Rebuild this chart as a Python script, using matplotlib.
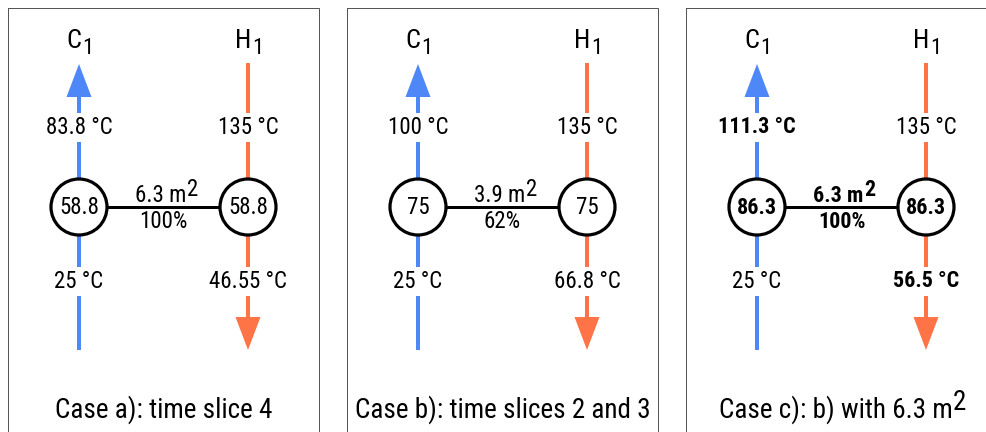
import matplotlib
matplotlib.use("Agg")
import matplotlib.pyplot as plt
from matplotlib import font_manager
from matplotlib.patches import Circle, Polygon, Rectangle

# ---- data ----
captions = ["Case a): time slice 4", "Case b): time slices 2 and 3", "Case c): b) with 6.3 m"]
caption_sup = ["", "", "2"]
cold_name = "C"
hot_name = "H"
stream_index = "1"
cold_in = [25, 25, 25]
cold_out = [83.8, 100, 111.3]
hot_in = [135, 135, 135]
hot_out = [46.55, 66.8, 56.5]
hx_temp = [58.8, 75, 86.3]
hx_area = [6.3, 3.9, 6.3]
hx_share = [100, 62, 100]
highlight = [False, False, True]   # case c) values printed bold

# ---- style ----
BLUE = "#4D87F8"
ORANGE = "#FF7447"
BORDER = "#555555"


def pick_font():
    for fam in ["Liberation Sans Narrow", "Arial Narrow", "Roboto Condensed", "Archivo Narrow",
                "Sofia Sans Semi Condensed", "Liberation Sans"]:
        try:
            font_manager.findfont(font_manager.FontProperties(family=fam), fallback_to_default=False)
            return fam
        except Exception:
            pass
    return "DejaVu Sans"


FONT = pick_font()
plt.rcParams["font.family"] = [FONT, "DejaVu Sans"]

W, H = 987, 432
fig = plt.figure(figsize=(W / 100, H / 100), dpi=100)
ax = fig.add_axes([0, 0, 1, 1])
ax.set_xlim(0, W)
ax.set_ylim(H, 0)
ax.axis("off")

px = 0.72  # points per pixel at 100 dpi
panel_left = [8, 347, 686]
panel_w = 311
col_off = 71       # cold stream offset from panel left
hot_off = 240
y_top_txt = 127
y_bot_txt = 281
y_hx = 207
r = 28
gap = 14.5
line_lw = 4 * px
fs_reg = 16.5
fs_bold = 15.8
fs_name = 19
fs_cap = 19.5


def fs(b):
    return fs_bold if b else fs_reg


for i in range(3):
    L = panel_left[i]
    ax.add_patch(Rectangle((L, 7.5), panel_w, 440, fill=False, ec=BORDER, lw=1.0 * px, zorder=1))
    xc = L + col_off
    xh = L + hot_off
    mid = (xc + xh) / 2
    hb = highlight[i]
    bw = "bold" if hb else "normal"

    # cold stream (upwards)
    segs_c = [(97, y_top_txt - gap), (y_top_txt + gap, y_hx - r), (y_hx + r, y_bot_txt - gap), (y_bot_txt + gap, 350)]
    for a, b in segs_c:
        ax.plot([xc, xc], [a, b], color=BLUE, lw=line_lw, solid_capstyle="butt", zorder=2)
    ax.add_patch(Polygon([[xc - 12.5, 97], [xc + 12.5, 97], [xc, 64]], closed=True, fc=BLUE, ec="none", zorder=2))

    # hot stream (downwards)
    segs_h = [(63, y_top_txt - gap), (y_top_txt + gap, y_hx - r), (y_hx + r, y_bot_txt - gap), (y_bot_txt + gap, 317)]
    for a, b in segs_h:
        ax.plot([xh, xh], [a, b], color=ORANGE, lw=line_lw, solid_capstyle="butt", zorder=2)
    ax.add_patch(Polygon([[xh - 12.5, 317], [xh + 12.5, 317], [xh, 350]], closed=True, fc=ORANGE, ec="none", zorder=2))

    # stream names
    for x, nm in [(xc - 5, cold_name), (xh - 5, hot_name)]:
        t = ax.text(x, 48, nm, ha="center", va="baseline", fontsize=fs_name)
        ax.annotate(stream_index, xy=(1, 0), xycoords=t, xytext=(0.5, -4), textcoords="offset points",
                    ha="left", va="bottom", fontsize=fs_name * 0.85)

    # temperatures
    ax.text(xc, y_top_txt, f"{cold_out[i]:g} °C", ha="center", va="center", fontsize=fs(hb), fontweight=bw)
    ax.text(xc, y_bot_txt, f"{cold_in[i]:g} °C", ha="center", va="center", fontsize=fs_reg)
    ax.text(xh, y_top_txt, f"{hot_in[i]:g} °C", ha="center", va="center", fontsize=fs_reg)
    ax.text(xh, y_bot_txt, f"{hot_out[i]:g} °C", ha="center", va="center", fontsize=fs(hb), fontweight=bw)

    # heat exchanger
    ax.plot([xc + r, xh - r], [y_hx, y_hx], color="black", lw=3 * px, zorder=3)
    for x in (xc, xh):
        ax.add_patch(Circle((x, y_hx), r, fc="white", ec="black", lw=3.2 * px, zorder=4))
        ax.text(x, y_hx + 0.5, f"{hx_temp[i]:g}", ha="center", va="center", fontsize=fs(hb), fontweight=bw, zorder=5)
    ta = ax.text(mid - 3, 202, f"{hx_area[i]:g} m", ha="center", va="baseline", fontsize=fs(hb), fontweight=bw)
    ax.annotate("2", xy=(1, 1), xycoords=ta, xytext=(0.5, 4), textcoords="offset points",
                ha="left", va="top", fontsize=fs(hb), fontweight=bw)
    ax.text(mid, 222, f"{hx_share[i]:g}%", ha="center", va="center", fontsize=fs(hb), fontweight=bw)

    # caption
    sup = caption_sup[i]
    cx = mid - (6 if sup else 0)
    tc = ax.text(cx, 418, captions[i], ha="center", va="baseline", fontsize=fs_cap)
    if sup:
        ax.annotate(sup, xy=(1, 1), xycoords=tc, xytext=(0.5, 5), textcoords="offset points",
                    ha="left", va="top", fontsize=fs_cap)

fig.savefig("out.png", dpi=100)
